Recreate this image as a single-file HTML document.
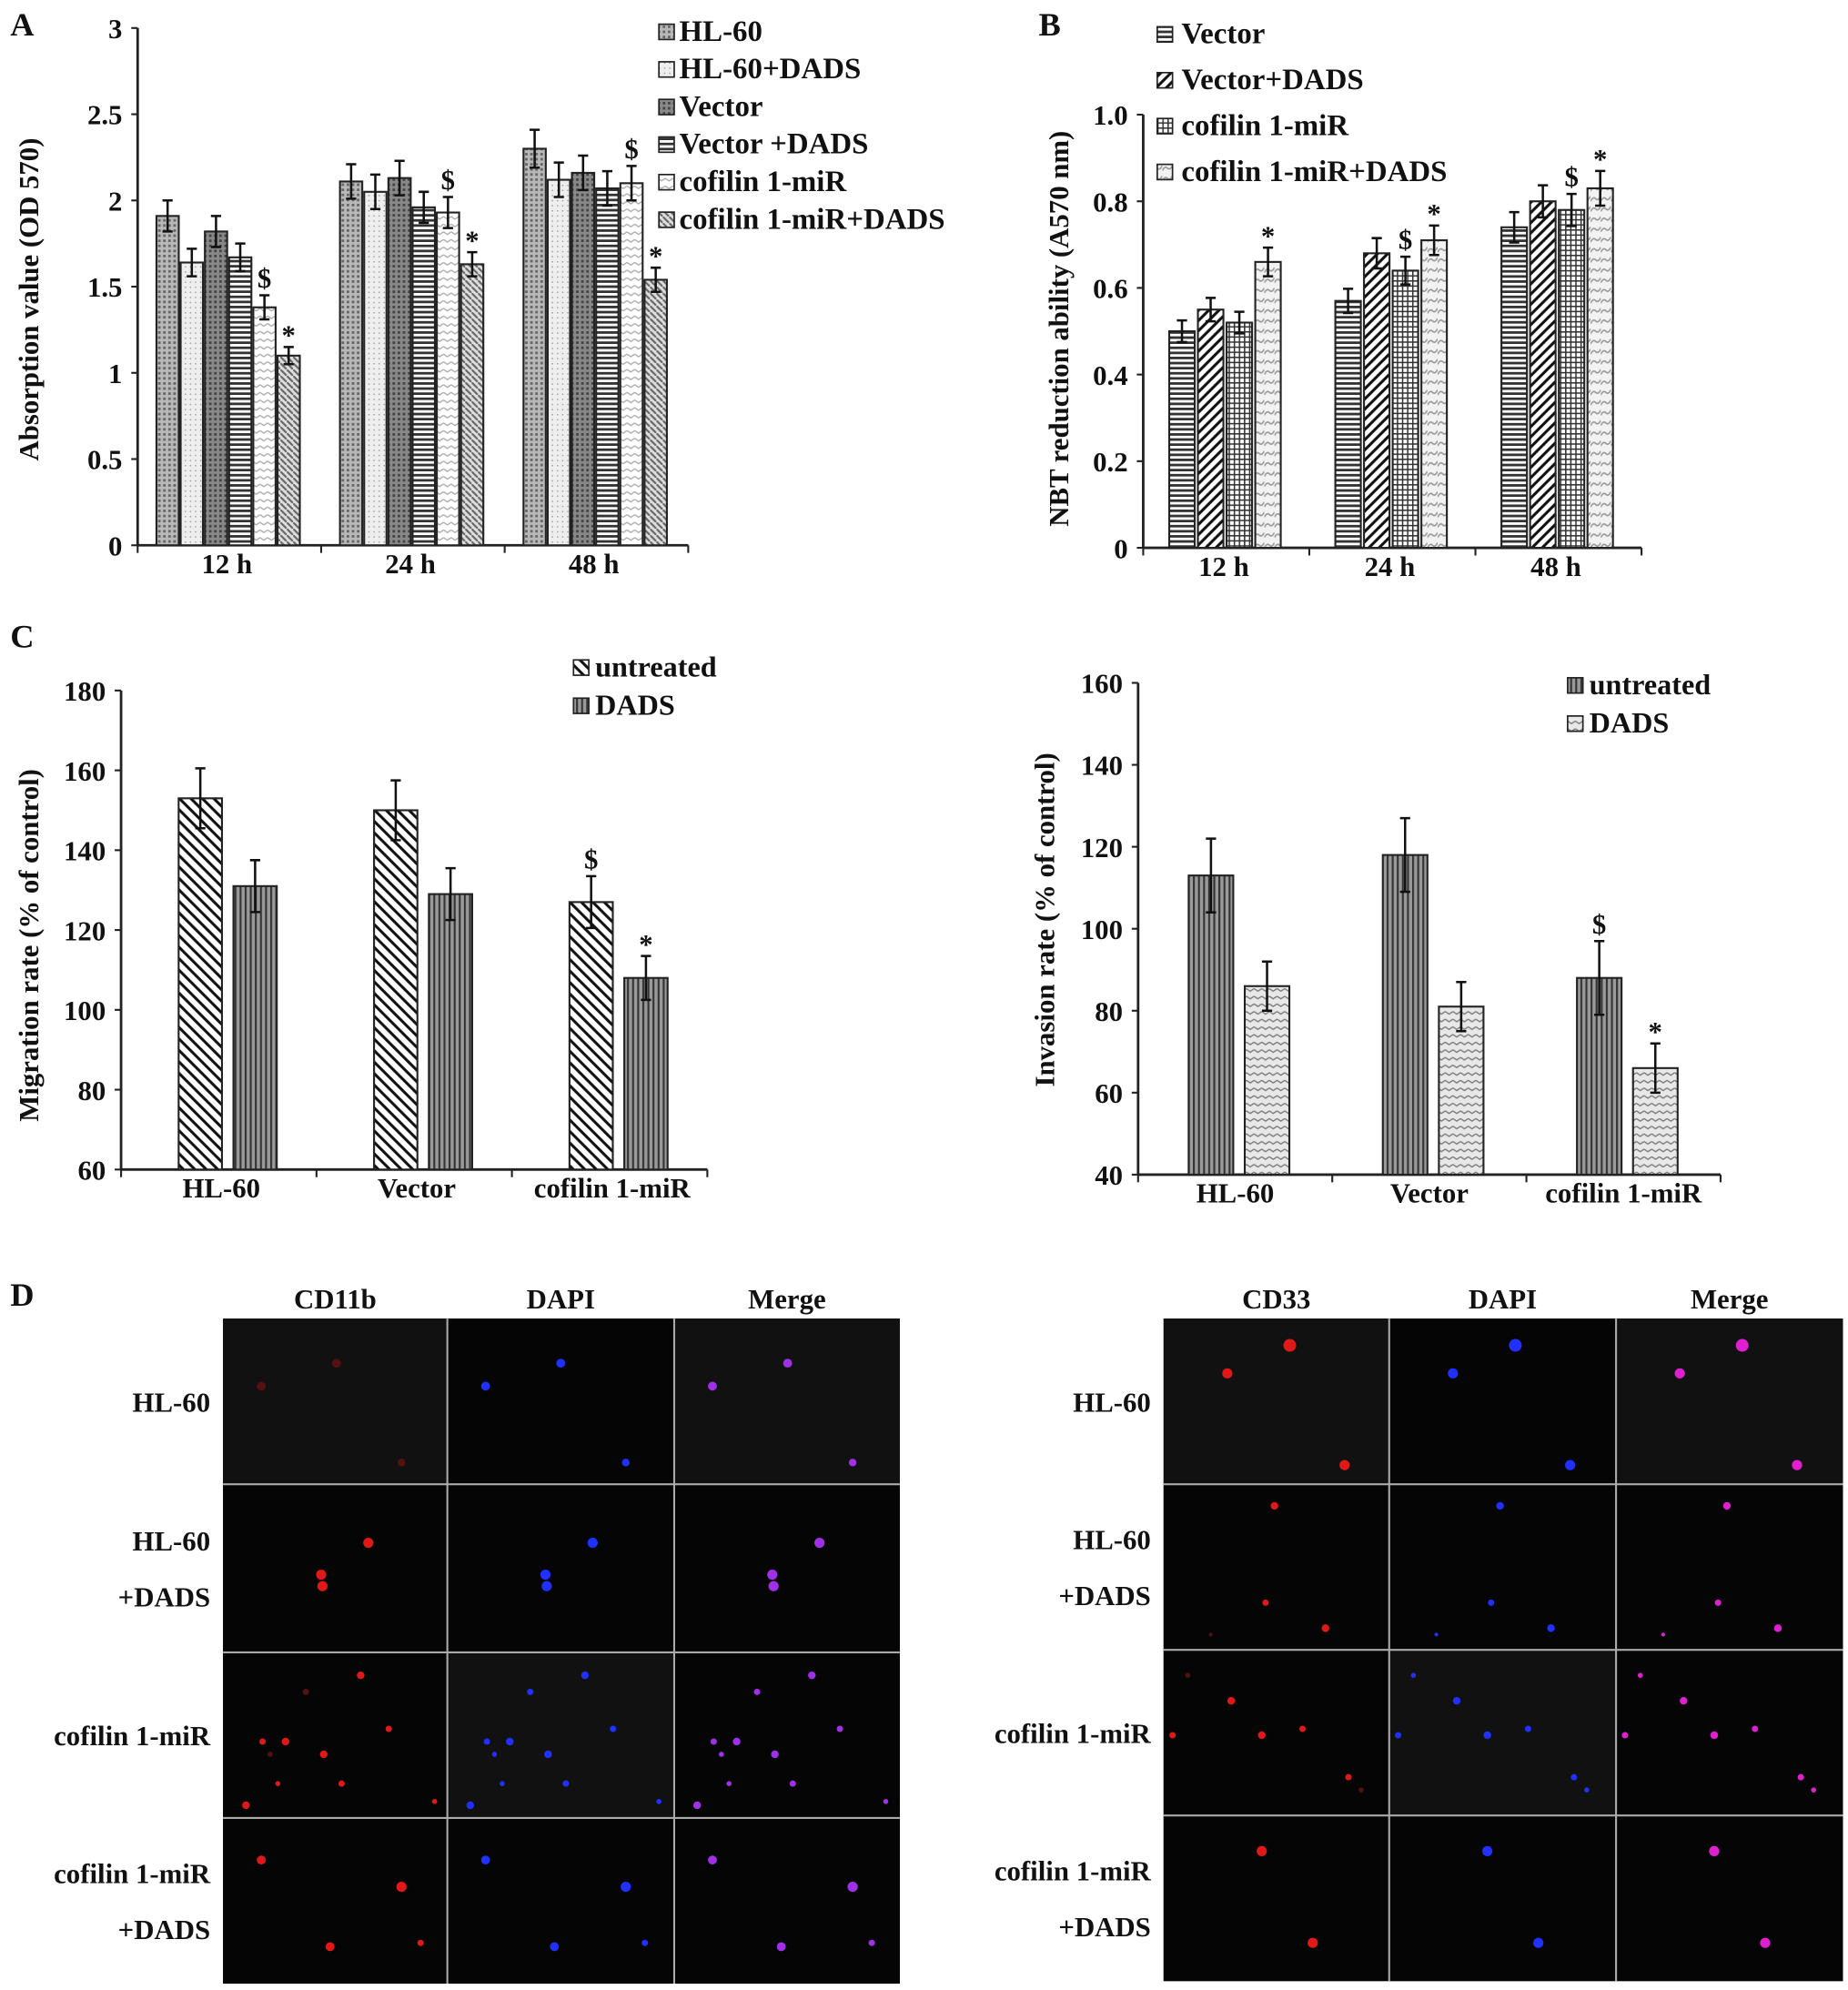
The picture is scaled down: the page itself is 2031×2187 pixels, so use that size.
<!DOCTYPE html>
<html><head><meta charset="utf-8"><style>
html,body{margin:0;padding:0;background:#fff;}
svg{display:block;}
text{font-family:"Liberation Serif",serif;font-weight:bold;fill:#111;}
</style></head><body>
<svg id="fig" width="2031" height="2187" viewBox="0 0 1450 1562" preserveAspectRatio="none" xmlns="http://www.w3.org/2000/svg">
<defs>
<pattern id="pStip" width="4" height="4" patternUnits="userSpaceOnUse"><rect width="4" height="4" fill="#b8b8b8"/><rect x="0" y="0" width="2" height="2" fill="#666"/></pattern>
<pattern id="pLight" width="4" height="4" patternUnits="userSpaceOnUse"><rect width="4" height="4" fill="#eee"/><rect x="1" y="1" width="1" height="1" fill="#999"/></pattern>
<pattern id="pDark" width="4" height="4" patternUnits="userSpaceOnUse"><rect width="4" height="4" fill="#888"/><rect x="0" y="0" width="2" height="2" fill="#444"/></pattern>
<pattern id="pH" width="4" height="4" patternUnits="userSpaceOnUse"><rect width="4" height="4" fill="#fff"/><rect y="0" width="4" height="2" fill="#333"/></pattern>
<pattern id="pZig" width="6" height="6" patternUnits="userSpaceOnUse"><rect width="6" height="6" fill="#fff"/><path d="M0 2 L3 4 L6 2" stroke="#aaa" fill="none" stroke-width="1"/></pattern>
<pattern id="pDiagB" width="5" height="5" patternUnits="userSpaceOnUse"><rect width="5" height="5" fill="#ddd"/><path d="M0 0 L5 5" stroke="#666" stroke-width="1.5"/></pattern>
<pattern id="pDiagF" width="8" height="8" patternUnits="userSpaceOnUse"><rect width="8" height="8" fill="#fff"/><path d="M-2 10 L10 -2 M-2 2 L2 -2 M6 10 L10 6" stroke="#111" stroke-width="2.2"/></pattern>
<pattern id="pGrid" width="4" height="4" patternUnits="userSpaceOnUse"><rect width="4" height="4" fill="#fff"/><path d="M0 0.5 H4 M0.5 0 V4" stroke="#333" stroke-width="1.2"/></pattern>
<pattern id="pWave" width="8" height="8" patternUnits="userSpaceOnUse"><rect width="8" height="8" fill="#f2f2f2"/><path d="M0 6 Q2 2 4 4 T8 2" stroke="#999" fill="none" stroke-width="1.2"/></pattern>
<pattern id="pBack" width="9" height="9" patternUnits="userSpaceOnUse"><rect width="9" height="9" fill="#fff"/><path d="M-2 -2 L11 11 M-2 7 L2 11 M7 -2 L11 2" stroke="#111" stroke-width="2.2"/></pattern>
<pattern id="pV" width="4" height="4" patternUnits="userSpaceOnUse"><rect width="4" height="4" fill="#999"/><rect x="0" width="1.5" height="4" fill="#333"/></pattern>
<pattern id="pZig2" width="6" height="6" patternUnits="userSpaceOnUse"><rect width="6" height="6" fill="#e8e8e8"/><path d="M0 2 L3 4 L6 2" stroke="#777" fill="none" stroke-width="1"/></pattern>
</defs>
</svg>
<script>
// Panel A data
const aCats = ["12 h","24 h","48 h"];
const aSeries = ["HL-60","HL-60+DADS","Vector","Vector +DADS","cofilin 1-miR","cofilin 1-miR+DADS"];
const aHL60 = [1.91,2.11,2.30];
const aHL60D = [1.64,2.05,2.12];
const aVec = [1.82,2.13,2.16];
const aVecD = [1.67,1.96,2.07];
const aMiR = [1.38,1.93,2.10];
const aMiRD = [1.10,1.63,1.54];
const aErr = [[0.09,0.10,0.11],[0.08,0.10,0.10],[0.09,0.10,0.10],[0.08,0.09,0.10],[0.07,0.09,0.10],[0.05,0.07,0.07]];
const aTicks = ["0","0.5","1","1.5","2","2.5","3"];
const aMarks = [["","",""],["","",""],["","",""],["","",""],["$","$","$"],["*","*","*"]];
// Panel B data
const bCats = ["12 h","24 h","48 h"];
const bSeries = ["Vector","Vector+DADS","cofilin 1-miR","cofilin 1-miR+DADS"];
const bVec = [0.50,0.57,0.74];
const bVecD = [0.55,0.68,0.80];
const bMiR = [0.52,0.64,0.78];
const bMiRD = [0.66,0.71,0.83];
const bErr = [[0.025,0.028,0.035],[0.027,0.035,0.037],[0.025,0.032,0.037],[0.033,0.034,0.04]];
const bTicks = ["0","0.2","0.4","0.6","0.8","1.0"];
const bMarks = [["","",""],["","",""],["","$","$"],["*","*","*"]];
// Panel C migration
const cCats = ["HL-60","Vector","cofilin 1-miR"];
const cSeries = ["untreated","DADS"];
const cUntr = [153,150,127];
const cDads = [131,129,108];
const cErr = [[7.5,7.5,6.5],[6.5,6.5,5.5]];
const cTicks = ["60","80","100","120","140","160","180"];
const cMarks = [["","","$"],["","","*"]];
// Panel C invasion
const dCats = ["HL-60","Vector","cofilin 1-miR"];
const dSeries = ["untreated","DADS"];
const dUntr = [113,118,88];
const dDads = [86,81,66];
const dErr = [[9,9,9],[6,6,6]];
const dTicks = ["40","60","80","100","120","140","160"];
const dMarks = [["","","$"],["","","*"]];

const NS="http://www.w3.org/2000/svg";
const svg=document.getElementById('fig');
function mk(tag,attrs,parent){const e=document.createElementNS(NS,tag);for(const k in attrs)e.setAttribute(k,attrs[k]);(parent||svg).appendChild(e);return e;}
function txt(s,x,y,size,anchor,parent,extra){const t=mk('text',Object.assign({x:x,y:y,'font-size':size,'text-anchor':anchor||'start'},extra||{}),parent);t.textContent=s;return t;}

function chart(cfg){
  const g=mk('g',{});
  
  
  const yS=v=>cfg.y0-(v-cfg.min)/(cfg.max-cfg.min)*(cfg.y0-cfg.y1);
  const nG=cfg.cats.length, gw=(cfg.x1-cfg.x0)/nG;
  const ax=mk('line',{x1:cfg.x0,y1:cfg.y0,x2:cfg.x0,y2:cfg.y1,stroke:'#222','stroke-width':2},g);
  
  const bx=mk('line',{x1:cfg.x0,y1:cfg.y0,x2:cfg.x1,y2:cfg.y0,stroke:'#222','stroke-width':2},g);
  
  cfg.ticks.forEach((t,i)=>{const v=cfg.min+i*(cfg.max-cfg.min)/(cfg.ticks.length-1);const y=yS(v);
    mk('line',{x1:cfg.x0-5,y1:y,x2:cfg.x0,y2:y,stroke:'#222','stroke-width':1.5},g);
    const tl=txt(t,cfg.x0-12,y+8,cfg.fs,'end',g);
    });
  for(let i=0;i<=nG;i++){const x=cfg.x0+i*gw;mk('line',{x1:x,y1:cfg.y0,x2:x,y2:cfg.y0+6,stroke:'#222','stroke-width':1.5},g);}
  cfg.cats.forEach((c,i)=>{const tl=txt(c,cfg.x0+gw*(i+0.5)+(cfg.labOff||0),cfg.y0+cfg.fs,cfg.fs,'middle',g);
    });
  const nS=cfg.series.length;
  cfg.series.forEach((vals,s)=>{
    vals.forEach((v,i)=>{
      const cx=cfg.x0+gw*(i+0.5)+(s-(nS-1)/2)*cfg.step+(cfg.barOff||0);
      const x=cx-cfg.bw/2,y=yS(v);
      const r=mk('rect',{x:x,y:y,width:cfg.bw,height:cfg.y0-y,fill:'url(#'+cfg.pats[s]+')',stroke:'#222','stroke-width':1.5},g);
      
      
      const e=cfg.err[s][i];const yt=yS(v+e),yb=yS(v-e);
      const eb=mk('path',{d:`M${cx} ${yt} V${yb} M${cx-4} ${yt} H${cx+4} M${cx-4} ${yb} H${cx+4}`,stroke:'#111','stroke-width':1.8,fill:'none'},g);
      
      const m=cfg.marks[s][i];
      if(m){const mt=txt(m,cx,yt-(m=='*'?2:6),cfg.fs,'middle',g);
        }
    });
  });
  const yt=txt(cfg.title,0,0,cfg.fs,'middle',g,{transform:`translate(${cfg.tx},${cfg.ty}) rotate(-90)`});
  
  cfg.sNames.forEach((n,s)=>{
    const ly=cfg.ly+s*cfg.lgap;
    const sw=mk('rect',{x:cfg.lx,y:ly-13,width:12,height:12,fill:'url(#'+cfg.pats[s]+')',stroke:'#222','stroke-width':1.2},g);
    
    const lt=txt(n,cfg.lx+(cfg.lto||15),ly,cfg.lfs,'start',g);
    
  });
  return g;
}

chart({name:'panel-a-chart',cats:aCats,series:[aHL60,aHL60D,aVec,aVecD,aMiR,aMiRD],err:aErr,marks:aMarks,sNames:aSeries,
  pats:['pStip','pLight','pDark','pH','pZig','pDiagB'],x0:108,x1:540,y0:428,y1:22,min:0,max:3,ticks:aTicks,bw:17.5,step:19,fs:22,
  title:'Absorption value (OD 570)',tx:30,ty:235,lx:517,ly:32,lgap:29.5,lfs:23.5,lto:16,labOff:-2,barOff:-1});
chart({name:'panel-b-chart',cats:bCats,series:[bVec,bVecD,bMiR,bMiRD],err:bErr,marks:bMarks,sNames:bSeries,
  pats:['pH','pDiagF','pGrid','pWave'],x0:897,x1:1288,y0:430,y1:90,min:0,max:1,ticks:bTicks,bw:20,step:22.5,fs:22,
  title:'NBT reduction ability (A570 nm)',tx:838,ty:258,lx:908,ly:34,lgap:36,lfs:23.5,lto:19,labOff:-2,barOff:-1});
chart({name:'panel-c-migration-chart',cats:cCats,series:[cUntr,cDads],err:cErr,marks:cMarks,sNames:cSeries,
  pats:['pBack','pV'],x0:95,x1:555,y0:918,y1:542,min:60,max:180,ticks:cTicks,bw:34,step:43,fs:22,
  title:'Migration rate (% of control)',tx:30,ty:742,lx:450,ly:531,lgap:30,lfs:23,lto:17,labOff:2,barOff:7});
chart({name:'panel-c-invasion-chart',cats:dCats,series:[dUntr,dDads],err:dErr,marks:dMarks,sNames:dSeries,
  pats:['pV','pZig2'],x0:893,x1:1350,y0:922,y1:536,min:40,max:160,ticks:dTicks,bw:35,step:44,fs:22,
  title:'Invasion rate (% of control)',tx:827,ty:722,lx:1230,ly:545,lgap:30,lfs:23,lto:17,labOff:0,barOff:3});

[['A',8,28],['B',815,28],['C',8,508],['D',8,1025]].forEach(([l,x,y])=>{const t=txt(l,x,y,26,'start');
  });

function grid(gx,cols,rows,heads,labels,labX,dots,colors,name){
  const g=mk('g',{});
  
  
  mk('rect',{x:cols[0],y:rows[0],width:cols[3]-cols[0],height:rows[4]-rows[0],fill:'#000'},g);
  for(let r=0;r<4;r++)for(let c=0;c<3;c++){
    const shade=((r+c)%2==0&&r==0)||(c==1&&r==2)||(c==2&&r==0)?'#111':'#050505';
    mk('rect',{x:cols[c],y:rows[r],width:cols[c+1]-cols[c],height:rows[r+1]-rows[r],fill:shade},g);
  }
  for(let i=1;i<3;i++)mk('line',{x1:cols[i],y1:rows[0],x2:cols[i],y2:rows[4],stroke:'#aaa','stroke-width':1.5},g);
  for(let i=1;i<4;i++)mk('line',{x1:cols[0],y1:rows[i],x2:cols[3],y2:rows[i],stroke:'#aaa','stroke-width':1.5},g);
  heads.forEach((h,i)=>{const t=txt(h,(cols[i]+cols[i+1])/2,rows[0]-8,22,'middle',g);
    });
  labels.forEach((ls,r)=>{const cy=(rows[r]+rows[r+1])/2;
    ls.forEach((l,k)=>{const t=txt(l,labX,cy+8+(k-(ls.length-1)/2)*44,22,'end',g);
      });});
  dots.forEach(([x,y,rad,faint])=>{
    for(let c=0;c<3;c++){
      const col=faint&&c==0?'#551010':colors[c];
      mk('circle',{cx:x+(cols[c]-cols[0]),cy:y,r:rad,fill:col},g);
    }
  });
}
grid(0,[175,351,529,706],[1035,1165,1297,1427,1557],['CD11b','DAPI','Merge'],
  [['HL-60'],['HL-60','+DADS'],['cofilin 1-miR'],['cofilin 1-miR','+DADS']],165,
  [[205,1088,3.5,1],[315,1148,3,1],[264,1070,3.5,1],[289,1211,4],[252,1236,4],[253,1245,4],
   [283,1315,3],[240,1328,2.5,1],[305,1357,2.5],[206,1367,2.5],[224,1367,3],[254,1377,3],[268,1400,2.5],[193,1417,3],[341,1414,2],[212,1377,2,1],[218,1400,2],
   [205,1460,3.5],[315,1481,4],[259,1528,3.5],[330,1525,2.5]],
  ['#e01818','#2030ff','#a030e8'],'panel-d-cd11b-grid');
grid(0,[913,1090,1268,1446],[1035,1165,1295,1425,1555],['CD33','DAPI','Merge'],
  [['HL-60'],['HL-60','+DADS'],['cofilin 1-miR'],['cofilin 1-miR','+DADS']],903,
  [[963,1078,4],[1012,1056,5],[1055,1150,4],
   [1000,1182,3],[993,1258,2.5],[1040,1278,3],[950,1283,1.5,1],
   [932,1315,2,1],[966,1335,3],[990,1362,3],[1022,1357,2.5],[1058,1395,2.5],[920,1362,2.5],[1068,1405,2,1],
   [990,1453,4],[1030,1525,4]],
  ['#e01818','#2030ff','#e020d0'],'panel-d-cd33-grid');
</script>
</body></html>
